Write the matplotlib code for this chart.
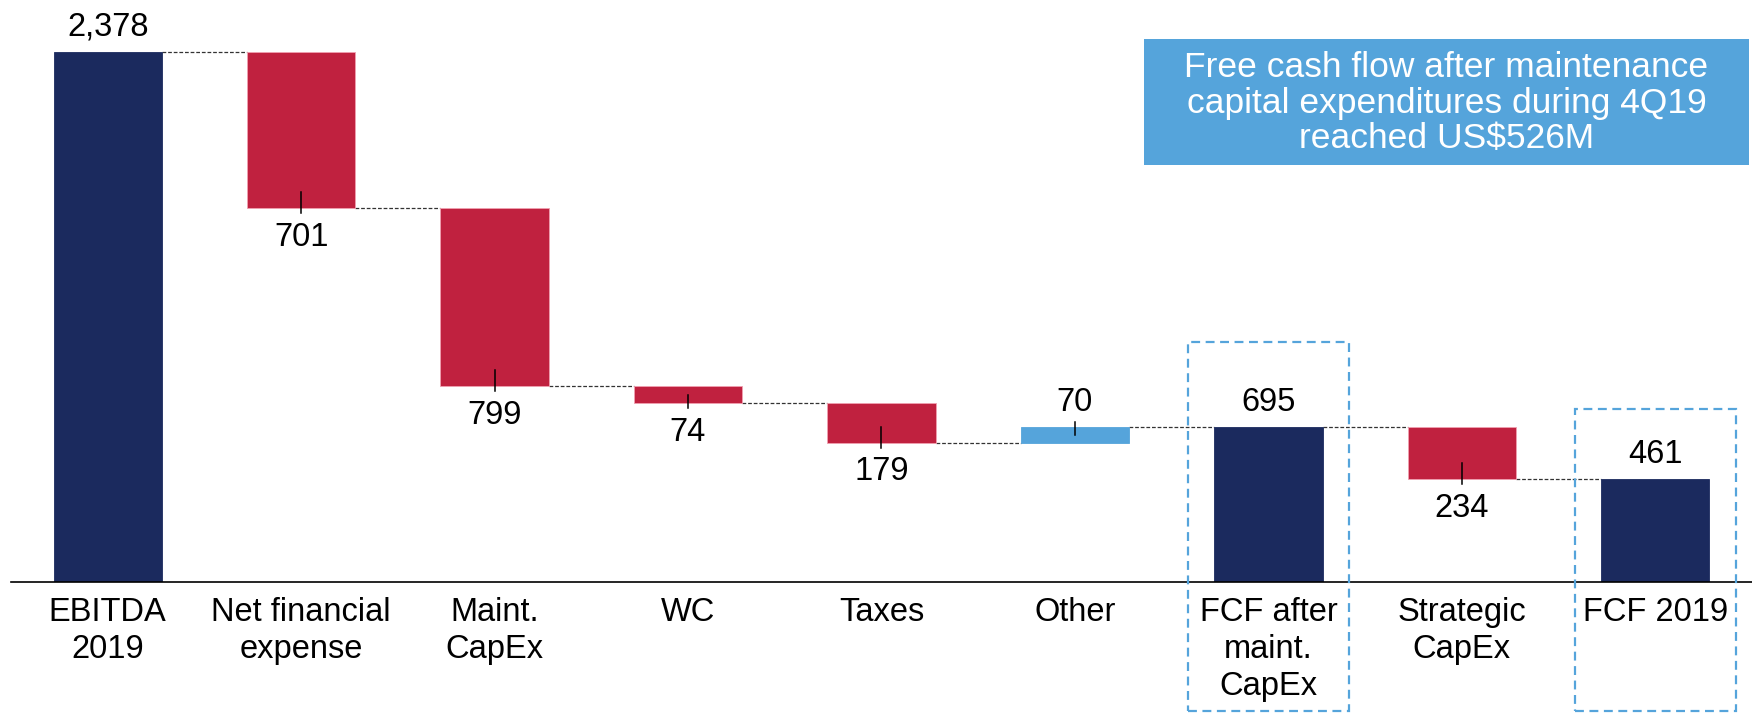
import matplotlib.pyplot as plt
from matplotlib.patches import Rectangle

# Data
categories = ["EBITDA\n2019", "Net financial\nexpense", "Maint.\nCapEx", "WC", "Taxes",
              "Other", "FCF after\nmaint.\nCapEx", "Strategic\nCapEx", "FCF 2019"]
values = [2378, -701, -799, -74, -179, 70, 695, -234, 461]
is_total = [True, False, False, False, False, False, True, False, True]
highlighted = [6, 8]
callout = "Free cash flow after maintenance\ncapital expenditures during 4Q19\nreached US$526M"

NAVY = '#1b2a5e'
RED = '#c0213f'
LIGHT_BLUE = '#55a4db'

plt.rcParams['font.family'] = ['Liberation Sans', 'DejaVu Sans']

fig = plt.figure(figsize=(17.52, 7.13), dpi=100)
ax = fig.add_axes([11 / 1752, 131 / 713, 1741 / 1752, 582 / 713])

width = 0.56
px = 2613 / 582  # data units per pixel (vertical)

# running totals -> bottoms / tops
running = 0
bars = []
for i, (v, tot) in enumerate(zip(values, is_total)):
    if tot:
        bottom, top = 0, v
        running = v
        color = NAVY
    else:
        start = running
        running = running + v
        bottom, top = min(start, running), max(start, running)
        color = RED if v < 0 else LIGHT_BLUE
    bars.append((bottom, top, running))
    ax.bar(i, top - bottom, bottom=bottom, width=width, color=color,
           edgecolor='#f0a0b0' if color == RED else color, linewidth=0.6, zorder=2)

# connectors
for i in range(len(values) - 1):
    level = bars[i][2]
    ax.plot([i + width / 2, i + 1 - width / 2], [level, level], color='#333333',
            lw=0.9, linestyle=(0, (3, 1.5)), zorder=1)

# value labels and little ticks
for i, v in enumerate(values):
    bottom, top, _ = bars[i]
    label = f"{abs(v):,}"
    if is_total[i] or v > 0:
        ax.annotate(label, (i, top), xytext=(0, 18), textcoords='offset points',
                    ha='center', va='center', fontsize=23.5, color='black')
        if not is_total[i]:
            inside = min(16 * px, (top - bottom) / 2)
            ax.plot([i, i], [top - inside, top + 5 * px], color='black', lw=1.1, zorder=3)
    else:
        ax.annotate(label, (i, bottom), xytext=(0, -21), textcoords='offset points',
                    ha='center', va='center', fontsize=23.5, color='black')
        inside = min(16 * px, (top - bottom) / 2)
        ax.plot([i, i], [bottom + inside, bottom - 5 * px], color='black', lw=1.1, zorder=3)

# highlight boxes around totals
for i in highlighted:
    top_px = 342 if i == 6 else 409
    ax.add_patch(Rectangle((i - 0.415, -129 * px), 0.83, (582 - top_px + 129) * px,
                           fill=False, edgecolor=LIGHT_BLUE, lw=1.6,
                           linestyle=(0, (4, 2.5)), clip_on=False, zorder=4))

# callout box
fig.patches.append(Rectangle((1144 / 1752, 1 - 165 / 713), 605 / 1752, 126 / 713,
                             transform=fig.transFigure, facecolor=LIGHT_BLUE,
                             edgecolor='none', zorder=5))
fig.text((1144 + 605 / 2) / 1752, 1 - 103 / 713, callout, ha='center', va='center',
         color='white', fontsize=25.5, linespacing=1.11, zorder=6)

ax.set_xlim(-0.5, 8.5)
ax.set_ylim(0, 2613)
ax.set_xticks(range(len(categories)))
ax.set_xticklabels(categories, fontsize=23.5, linespacing=1.25)
ax.tick_params(axis='x', length=0, pad=11)
ax.set_yticks([])
for s in ['top', 'right', 'left']:
    ax.spines[s].set_visible(False)
ax.spines['bottom'].set_linewidth(1.2)
ax.patch.set_alpha(0)

plt.savefig('out.png', dpi=100)
